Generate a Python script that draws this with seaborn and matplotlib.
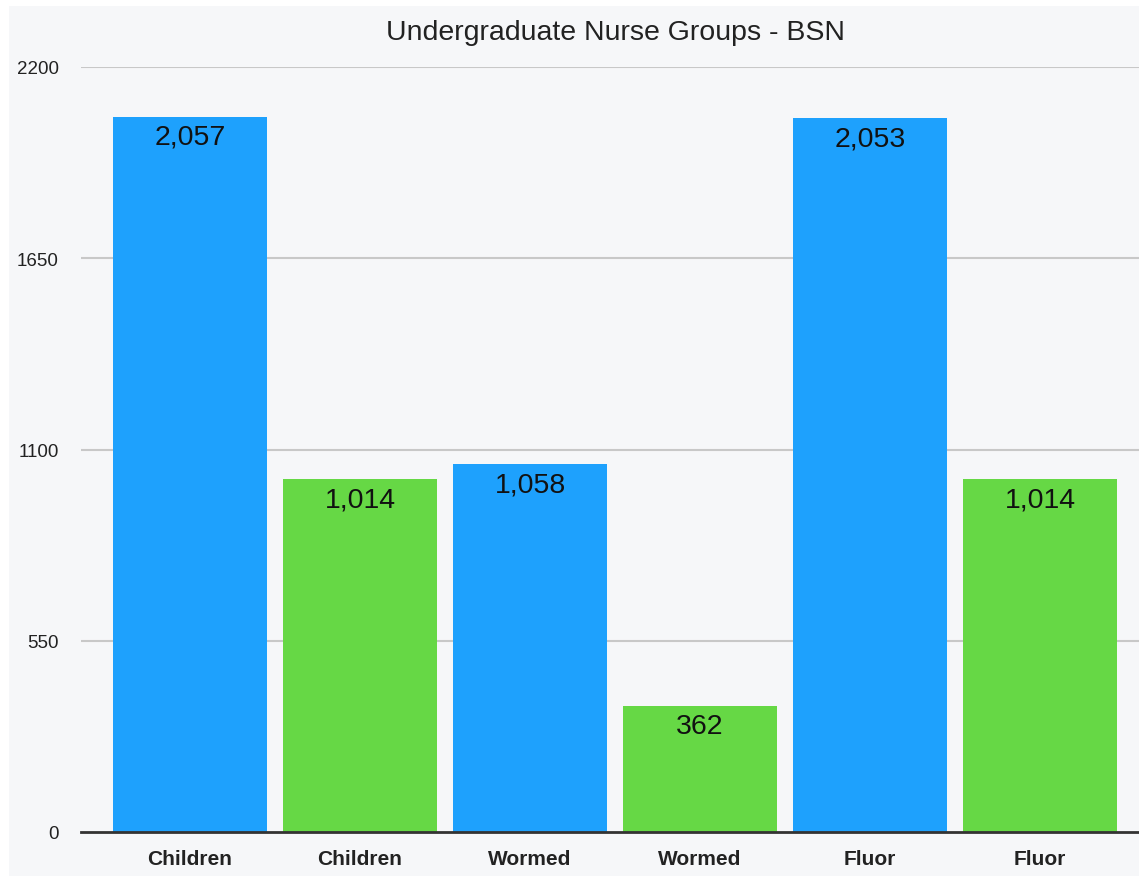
import matplotlib
matplotlib.use("Agg")
import matplotlib.pyplot as plt
from matplotlib.patches import Rectangle
import seaborn as sns
import pandas as pd

# values
labels = ["Children", "Children", "Wormed", "Wormed", "Fluor", "Fluor"]
values = [2057, 1014, 1058, 362, 2053, 1014]
groups = ["a", "b", "a", "b", "a", "b"]
yticks = [0, 550, 1100, 1650, 2200]

bg = "#f6f7f9"
colors = {"a": "#1ea1fd", "b": "#66d845"}

sns.set_style("white")
plt.rcParams["font.family"] = ["Liberation Sans", "DejaVu Sans"]

df = pd.DataFrame({"pos": [str(i) for i in range(len(labels))],
                   "value": values, "group": groups})

fig = plt.figure(figsize=(11.39, 8.79), dpi=100, facecolor="white")
fig.patches.append(Rectangle((9 / 1139, 2 / 879), 1 - 9 / 1139, 1 - 9 / 879,
                             transform=fig.transFigure, facecolor=bg,
                             edgecolor="none", zorder=-10))
ax = fig.add_axes([81 / 1139, 1 - 833 / 879, 1 - 81 / 1139, (833 - 68) / 879])
ax.set_zorder(2)
ax.set_facecolor(bg)

sns.barplot(data=df, x="pos", y="value", hue="group", palette=colors,
            dodge=False, width=0.906, legend=False, ax=ax, zorder=3,
            linewidth=0, saturation=1)

ax.set_ylim(0, 2200)
ax.set_xlim(-0.641, 5.582)
ax.set_yticks(yticks)
ax.set_yticklabels([str(t) for t in yticks], fontsize=13.5, color="#222222")
ax.set_xticks(range(len(labels)))
ax.set_xticklabels(labels, fontsize=15, fontweight="bold", color="#222222")
ax.tick_params(axis="both", length=0)
ax.tick_params(axis="y", pad=16)
ax.tick_params(axis="x", pad=12)
ax.set_xlabel("")
ax.set_ylabel("")

for t in yticks[1:]:
    ax.axhline(t, color="#c8c8c8", linewidth=1.5, zorder=1)

for s in ["top", "right", "left"]:
    ax.spines[s].set_visible(False)
ax.spines["bottom"].set_color("#333333")
ax.spines["bottom"].set_linewidth(2)
ax.spines["bottom"].set_zorder(4)

for i, v in enumerate(values):
    ax.annotate(f"{v:,}", (i, v), xytext=(0, -20), textcoords="offset pixels",
                ha="center", va="center", fontsize=20.5, color="#111111",
                zorder=5)

ax.set_title("Undergraduate Nurse Groups - BSN", fontsize=20.5, color="#222222",
             pad=20, x=0.505)

fig.savefig("out.png", dpi=100, facecolor="white")
